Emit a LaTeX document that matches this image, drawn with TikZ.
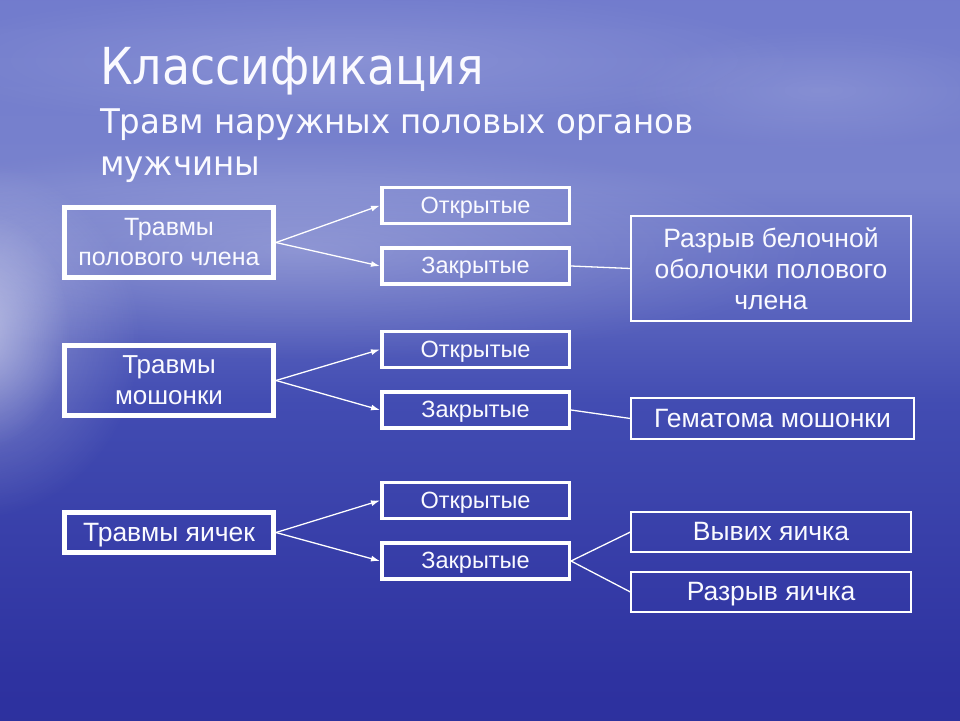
\documentclass[tikz,border=0pt]{standalone}
\usepackage{fontspec}
\setmainfont{Liberation Sans}
\newfontfamily\titlefont{DejaVu Sans Condensed}
\newfontfamily\subfont[FakeStretch=1.06]{DejaVu Sans Condensed}
\usetikzlibrary{arrows.meta,fadings}
\definecolor{bgA}{RGB}{36,36,145}
\definecolor{bgB}{RGB}{46,50,160}
\definecolor{bgC}{RGB}{66,76,178}
\definecolor{bgD}{RGB}{120,130,205}
\definecolor{bgE}{RGB}{112,122,205}
\definecolor{bgF}{RGB}{82,92,188}
\definecolor{txt}{RGB}{250,250,255}
\pgfdeclareverticalshading{bgshade}{100bp}{color(0bp)=(bgA); color(28bp)=(bgB); color(47bp)=(bgC); color(62bp)=(bgD); color(78bp)=(bgE); color(100bp)=(bgF)}
\tikzfading[name=glow, inner color=transparent!0, outer color=transparent!100]
\tikzset{
  leftbox/.style={draw=white, line width=5pt, text=txt, align=center, inner sep=0pt, minimum width=209pt},
  midbox/.style={draw=white, line width=3.5pt, text=txt, inner sep=0pt, minimum width=187.5pt, minimum height=36pt, text height=15.5pt, text depth=0pt, font=\fontsize{23.5}{28}\selectfont},
  rightbox/.style={draw=white, line width=1.2pt, text=txt, align=center, inner sep=0pt, font=\fontsize{26.5}{31}\selectfont},
  oneline/.style={text height=17.5pt, text depth=0pt},
  arr/.style={draw=white, line width=1.3pt, -{Latex[length=9pt,width=6pt]}},
  conn/.style={draw=white, line width=1.3pt}
}
\begin{document}
\begin{tikzpicture}[x=1pt,y=-1pt]
\useasboundingbox (0,0) rectangle (960,720);
\shade[shading=bgshade] (0,0) rectangle (960,720);
\fill[white, opacity=0.25, path fading=glow] (300,250) ellipse (520 and 110);
\fill[white, opacity=0.35, path fading=glow] (-30,340) ellipse (170 and 180);
\fill[white, opacity=0.35, path fading=glow] (-20,330) ellipse (90 and 120);
\fill[white, opacity=0.15, path fading=glow] (350,60) ellipse (450 and 70);
\fill[white, opacity=0.12, path fading=glow] (820,90) ellipse (200 and 60);

% titles
\node[anchor=base west, text=txt, inner sep=0pt, font=\titlefont\fontsize{51}{60}\selectfont] (t1) at (100,84) {Классификация};
\node[anchor=base west, text=txt, inner sep=0pt, font=\subfont\fontsize{34}{40}\selectfont] (t2) at (100,133) {Травм наружных половых органов};
\node[anchor=base west, text=txt, inner sep=0pt, font=\subfont\fontsize{34}{40}\selectfont] (t3) at (100,175) {мужчины};

% left boxes
\node[leftbox, minimum height=70pt, font=\fontsize{25}{30}\selectfont] (L1) at (169,242.5) {Травмы\\полового члена};
\node[leftbox, minimum height=70pt, font=\fontsize{26}{31}\selectfont] (L2) at (169,380.5) {Травмы\\мошонки};
\node[leftbox, oneline, minimum height=40pt, font=\fontsize{26.5}{30}\selectfont] (L3) at (169,532.5) {Травмы яичек};

% middle boxes
\node[midbox] (O1) at (475.5,205.5) {Открытые};
\node[midbox] (Z1) at (475.5,266) {Закрытые};
\node[midbox] (O2) at (475.5,349.5) {Открытые};
\node[midbox] (Z2) at (475.5,410) {Закрытые};
\node[midbox] (O3) at (475.5,500.5) {Открытые};
\node[midbox] (Z3) at (475.5,561) {Закрытые};

% right boxes
\node[rightbox, minimum width=280pt, minimum height=105pt] (R1) at (771,268.5) {Разрыв белочной\\оболочки полового\\члена};
\node[rightbox, oneline, minimum width=283pt, minimum height=41pt] (R2) at (772.5,418.5) {Гематома мошонки};
\node[rightbox, oneline, minimum width=280pt, minimum height=40pt] (R3) at (771,532) {Вывих яичка};
\node[rightbox, oneline, minimum width=280pt, minimum height=40pt] (R4) at (771,592) {Разрыв яичка};

% connectors
\draw[arr] (L1.east) -- (O1.west);
\draw[arr] (L1.east) -- (Z1.west);
\draw[arr] (L2.east) -- (O2.west);
\draw[arr] (L2.east) -- (Z2.west);
\draw[arr] (L3.east) -- (O3.west);
\draw[arr] (L3.east) -- (Z3.west);
\draw[conn] (Z1.east) -- (R1.west);
\draw[conn] (Z2.east) -- (R2.west);
\draw[conn] (Z3.east) -- (R3.west);
\draw[conn] (Z3.east) -- (R4.west);
\end{tikzpicture}
\end{document}
